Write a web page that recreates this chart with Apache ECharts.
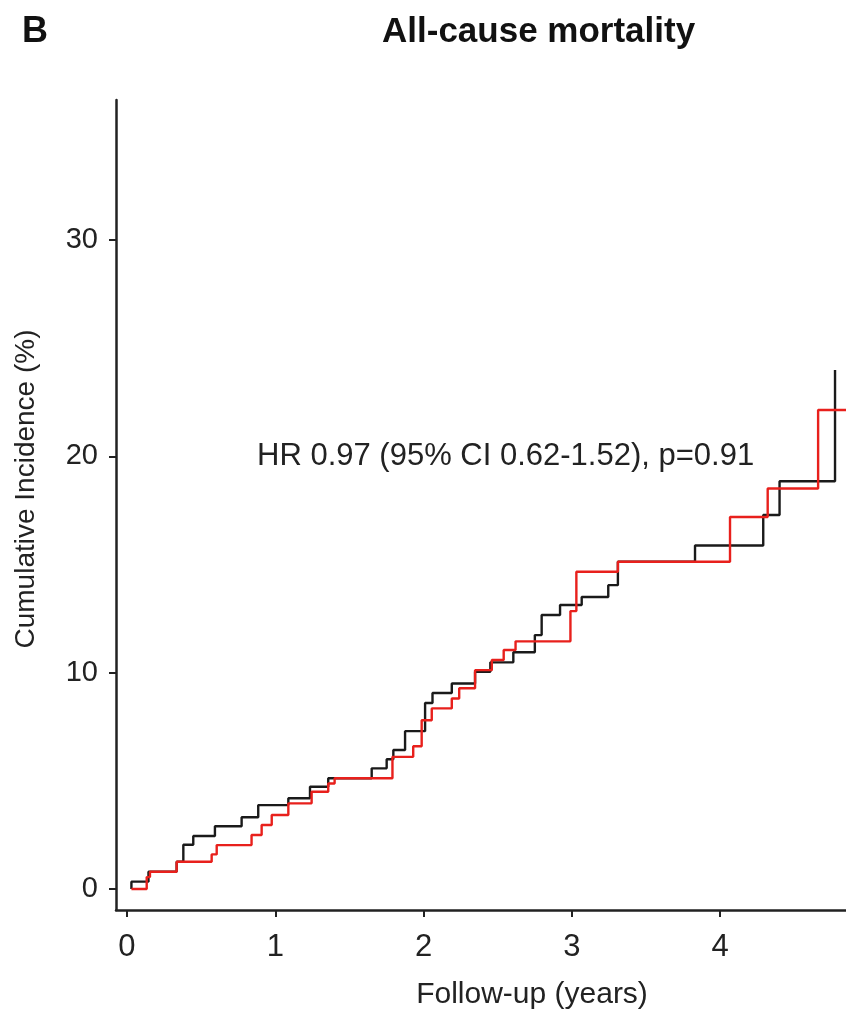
<!DOCTYPE html>
<html><head><meta charset="utf-8">
<script src="https://cdn.jsdelivr.net/npm/echarts@6/dist/echarts.min.js"></script>
<style>html,body{margin:0;padding:0;background:#fff}#c{width:846px;height:1019px}</style>
</head><body><div id="c"></div>
<script>
// Follow-up time (years) at each step, and cumulative incidence (%) after the step
const timeBlack = [0.03, 0.03, 0.145, 0.335, 0.38, 0.447, 0.593, 0.773, 0.885, 1.088, 1.234, 1.357, 1.65, 1.751, 1.796, 1.875, 2.01, 2.06, 2.19, 2.347, 2.45, 2.605, 2.75, 2.796, 2.92, 3.066, 3.245, 3.31, 3.83, 4.29, 4.40, 4.774];
const incBlack  = [0, 0.34, 0.8, 1.26, 2.05, 2.45, 2.9, 3.32, 3.88, 4.2, 4.73, 5.12, 5.58, 6.0, 6.43, 7.3, 8.6, 9.06, 9.5, 10.04, 10.48, 10.95, 11.74, 12.67, 13.13, 13.5, 14.05, 15.13, 15.88, 17.29, 18.85, 24.0];
const timeRed = [0.03, 0.133, 0.155, 0.335, 0.571, 0.605, 0.84, 0.908, 0.976, 1.088, 1.245, 1.357, 1.40, 1.79, 1.93, 1.987, 2.055, 2.19, 2.24, 2.347, 2.46, 2.54, 2.62, 2.99, 3.03, 3.31, 4.066, 4.32, 4.66, 4.848];
const incRed  = [0, 0.55, 0.8, 1.26, 1.6, 2.03, 2.5, 2.96, 3.42, 3.96, 4.5, 4.88, 5.12, 6.11, 6.6, 7.8, 8.35, 8.81, 9.28, 10.12, 10.59, 11.05, 11.45, 12.85, 14.67, 15.13, 17.2, 18.52, 22.15, 22.15];
const xTicks = [0, 1, 2, 3, 4];
const yTicks = [0, 10, 20, 30];
const panelLabel = 'B';
const titleText = 'All-cause mortality';
const hrText = 'HR 0.97 (95% CI 0.62-1.52), p=0.91';
const xName = 'Follow-up (years)';
const yName = 'Cumulative Incidence (%)';

const FONT = '"Liberation Sans", Arial, Helvetica, sans-serif';
const INK = '#222';
function pairs(t, v) { return t.map((x, i) => [x, v[i]]); }

const chart = echarts.init(document.getElementById('c'), null, {renderer: 'canvas'});
chart.setOption({
  animation: false,
  backgroundColor: '#fff',
  title: [
    {text: panelLabel, left: 17, top: 9, textStyle: {fontFamily: FONT, fontWeight: 'bold', fontSize: 36, color: '#111'}},
    {text: titleText, left: 377, top: 10, textStyle: {fontFamily: FONT, fontWeight: 'bold', fontSize: 35, color: '#111'}}
  ],
  graphic: [
    {type: 'text', left: 257, top: 441, style: {text: hrText, font: '31px ' + FONT, fill: INK}}
  ],
  grid: {left: 116, right: 0, top: 100, bottom: 109, outerBoundsMode: 'none'},
  xAxis: {
    type: 'value', min: -0.074, max: 4.848,
    axisLine: {show: true, onZero: false, lineStyle: {color: INK, width: 2.5}},
    axisTick: {show: true, length: 7, customValues: xTicks, lineStyle: {color: INK, width: 2}},
    axisLabel: {customValues: xTicks, margin: 22, fontSize: 31, color: INK, fontFamily: FONT},
    splitLine: {show: false},
    name: xName, nameLocation: 'middle', nameGap: 70,
    nameTextStyle: {fontSize: 30, color: INK, fontFamily: FONT, padding: [0, 0, 0, 102]}
  },
  yAxis: {
    type: 'value', min: -0.97, max: 36.48,
    axisLine: {show: true, onZero: false, lineStyle: {color: INK, width: 2.5}},
    axisTick: {show: true, length: 7, customValues: yTicks, lineStyle: {color: INK, width: 2}},
    axisLabel: {customValues: yTicks, margin: 18, fontSize: 29, color: INK, fontFamily: FONT},
    splitLine: {show: false},
    name: yName, nameLocation: 'middle', nameGap: 76,
    nameTextStyle: {fontSize: 28, color: INK, fontFamily: FONT, padding: [0, 0, 0, 32]}
  },
  series: [
    {name: 'black', type: 'line', step: 'end', data: pairs(timeBlack, incBlack), symbol: 'none',
     lineStyle: {color: '#1a1a1a', width: 2.4}},
    {name: 'red', type: 'line', step: 'end', data: pairs(timeRed, incRed), symbol: 'none',
     lineStyle: {color: '#e8201c', width: 2.4}}
  ]
});
</script></body></html>
